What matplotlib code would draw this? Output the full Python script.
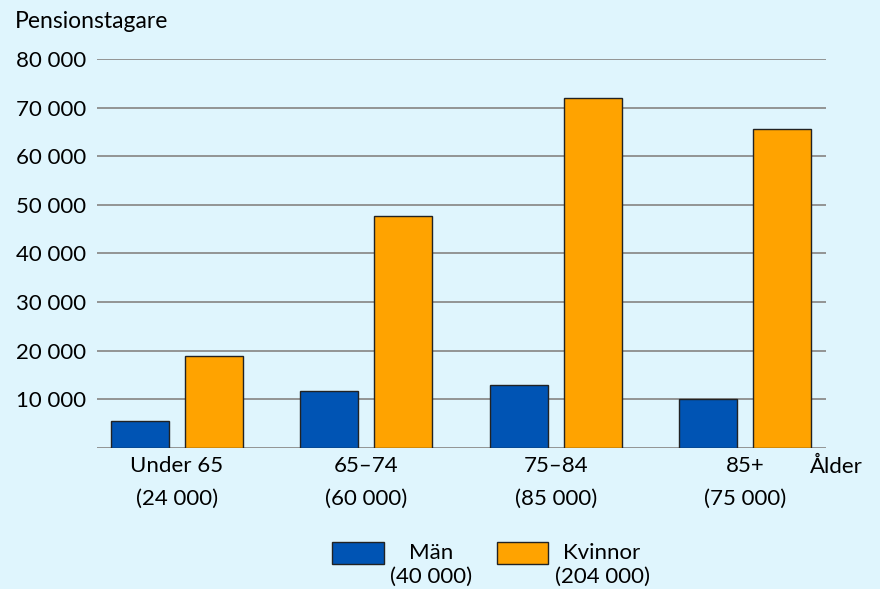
import numpy as np
import matplotlib.pyplot as plt
from matplotlib.patches import Rectangle
from matplotlib.legend_handler import HandlerPatch

# data
groups = ['Under 65\n(24 000)', '65–74\n(60 000)', '75–84\n(85 000)', '85+\n(75 000)']
man = [5600, 11700, 13000, 10000]
kvinnor = [19000, 47800, 72000, 65600]
series_labels = ['Män\n(40 000)', 'Kvinnor\n(204 000)']
yticks = [10000, 20000, 30000, 40000, 50000, 60000, 70000, 80000]

bg = '#dff5fd'
blue = '#0054b4'
orange = '#ffa300'

plt.rcParams['font.family'] = ['Lato', 'DejaVu Sans']
fs = 16

fig = plt.figure(figsize=(8.8, 5.89), dpi=100, facecolor=bg)
ax = fig.add_axes([97 / 880, 1 - 448 / 589, (826 - 97) / 880, (448 - 59) / 589])
ax.set_facecolor(bg)

x = np.arange(len(groups))
w = 0.306
off = 0.195
b1 = ax.bar(x - off, man, w, color=blue, edgecolor='#222222', linewidth=1, zorder=3)
b2 = ax.bar(x + off, kvinnor, w, color=orange, edgecolor='#222222', linewidth=1, zorder=3)

ax.set_xlim(-0.422, 3.427)
ax.set_ylim(0, 80000)
for v in [0] + yticks:
    ax.axhline(v, color='#8c8c8c', linewidth=1.3, zorder=1)

ax.set_yticks(yticks)
ax.set_yticklabels([f'{v:,}'.replace(',', ' ') for v in yticks], fontsize=fs)
ax.set_xticks(x)
ax.set_xticklabels(groups, fontsize=fs, linespacing=1.8)
ax.tick_params(length=0)
ax.tick_params(axis='x', pad=6)
ax.tick_params(axis='y', pad=8)
for s in ax.spines.values():
    s.set_visible(False)

fig.text(15 / 880, 1 - 22 / 589, 'Pensionstagare', fontsize=fs + 0.5, va='center', ha='left')
fig.text(810 / 880, 1 - 467 / 589, 'Ålder', fontsize=fs, va='center', ha='left')


def top_patch(legend, orig_handle, xdescent, ydescent, width, height, fontsize):
    # legend swatch sits level with the first text line
    return Rectangle((-xdescent, -ydescent + 9), width, height)


h1, h2 = b1.patches[0], b2.patches[0]
leg = fig.legend([h1, h2], series_labels, loc='center', bbox_to_anchor=(491 / 880, 1 - 565 / 589),
                 ncol=2, frameon=False, fontsize=fs, handlelength=2.3, handleheight=1.1,
                 columnspacing=1.1, handletextpad=0.3, borderpad=0,
                 handler_map={h1: HandlerPatch(patch_func=top_patch), h2: HandlerPatch(patch_func=top_patch)})
for t in leg.get_texts():
    t.set_multialignment('center')
    t.set_linespacing(1.25)

fig.savefig('out.png', dpi=100, facecolor=bg)
